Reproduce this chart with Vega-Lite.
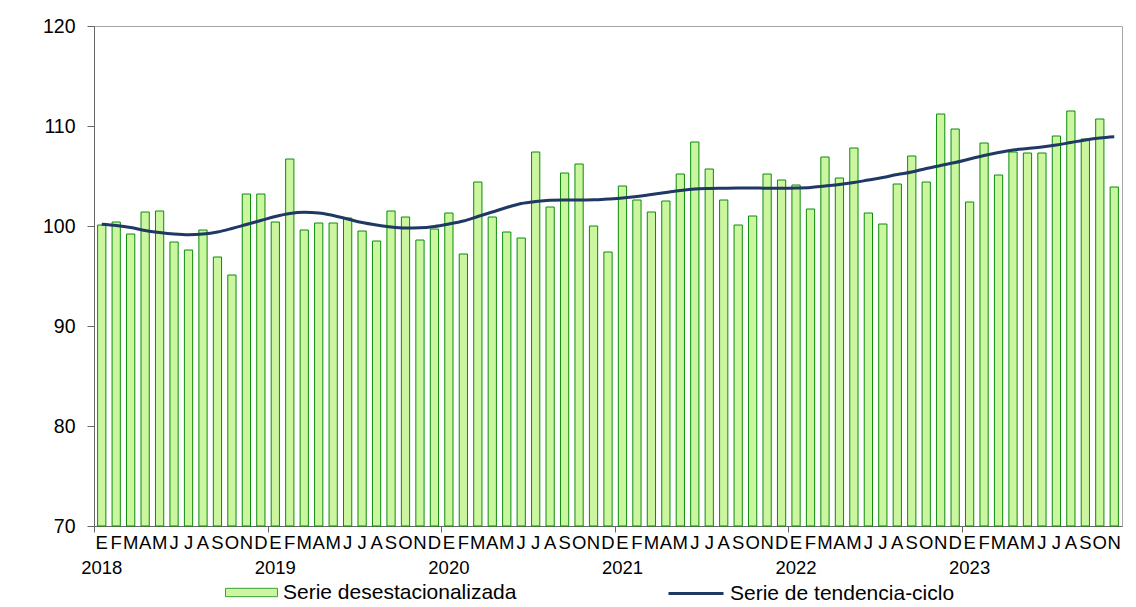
{
  "$schema": "https://vega.github.io/schema/vega-lite/v6.json",
  "width": 1028,
  "height": 500,
  "autosize": {"type": "none"},
  "padding": {"left": 94, "top": 26, "right": 14, "bottom": 81},
  "background": "white",
  "config": {
    "font": "Liberation Sans",
    "view": {"stroke": "#a6a6a6", "strokeWidth": 1}
  },
  "data": {
    "values": [
      {"m": "2018-01", "v": 100.1, "t": 100.17},
      {"m": "2018-02", "v": 100.4, "t": 100.05},
      {"m": "2018-03", "v": 99.2, "t": 99.85},
      {"m": "2018-04", "v": 101.4, "t": 99.55},
      {"m": "2018-05", "v": 101.5, "t": 99.35},
      {"m": "2018-06", "v": 98.4, "t": 99.2},
      {"m": "2018-07", "v": 97.6, "t": 99.13},
      {"m": "2018-08", "v": 99.6, "t": 99.2},
      {"m": "2018-09", "v": 96.9, "t": 99.4},
      {"m": "2018-10", "v": 95.1, "t": 99.75},
      {"m": "2018-11", "v": 103.2, "t": 100.15},
      {"m": "2018-12", "v": 103.2, "t": 100.55},
      {"m": "2019-01", "v": 100.4, "t": 100.95},
      {"m": "2019-02", "v": 106.7, "t": 101.25},
      {"m": "2019-03", "v": 99.6, "t": 101.37},
      {"m": "2019-04", "v": 100.3, "t": 101.3},
      {"m": "2019-05", "v": 100.3, "t": 101.05},
      {"m": "2019-06", "v": 100.8, "t": 100.7},
      {"m": "2019-07", "v": 99.5, "t": 100.35},
      {"m": "2019-08", "v": 98.5, "t": 100.1},
      {"m": "2019-09", "v": 101.5, "t": 99.9},
      {"m": "2019-10", "v": 100.9, "t": 99.8},
      {"m": "2019-11", "v": 98.6, "t": 99.82},
      {"m": "2019-12", "v": 99.7, "t": 99.95},
      {"m": "2020-01", "v": 101.3, "t": 100.2},
      {"m": "2020-02", "v": 97.2, "t": 100.5},
      {"m": "2020-03", "v": 104.4, "t": 100.95},
      {"m": "2020-04", "v": 100.9, "t": 101.4},
      {"m": "2020-05", "v": 99.4, "t": 101.85},
      {"m": "2020-06", "v": 98.8, "t": 102.25},
      {"m": "2020-07", "v": 107.4, "t": 102.45},
      {"m": "2020-08", "v": 101.9, "t": 102.57},
      {"m": "2020-09", "v": 105.3, "t": 102.6},
      {"m": "2020-10", "v": 106.2, "t": 102.6},
      {"m": "2020-11", "v": 100.0, "t": 102.62},
      {"m": "2020-12", "v": 97.4, "t": 102.7},
      {"m": "2021-01", "v": 104.0, "t": 102.8},
      {"m": "2021-02", "v": 102.6, "t": 102.95},
      {"m": "2021-03", "v": 101.4, "t": 103.15},
      {"m": "2021-04", "v": 102.5, "t": 103.35},
      {"m": "2021-05", "v": 105.2, "t": 103.55},
      {"m": "2021-06", "v": 108.4, "t": 103.7},
      {"m": "2021-07", "v": 105.7, "t": 103.75},
      {"m": "2021-08", "v": 102.6, "t": 103.78},
      {"m": "2021-09", "v": 100.1, "t": 103.8},
      {"m": "2021-10", "v": 101.0, "t": 103.8},
      {"m": "2021-11", "v": 105.2, "t": 103.78},
      {"m": "2021-12", "v": 104.6, "t": 103.78},
      {"m": "2022-01", "v": 104.1, "t": 103.8},
      {"m": "2022-02", "v": 101.7, "t": 103.85},
      {"m": "2022-03", "v": 106.9, "t": 104.0},
      {"m": "2022-04", "v": 104.8, "t": 104.15},
      {"m": "2022-05", "v": 107.8, "t": 104.35},
      {"m": "2022-06", "v": 101.3, "t": 104.6},
      {"m": "2022-07", "v": 100.2, "t": 104.85},
      {"m": "2022-08", "v": 104.2, "t": 105.15},
      {"m": "2022-09", "v": 107.0, "t": 105.4},
      {"m": "2022-10", "v": 104.4, "t": 105.75},
      {"m": "2022-11", "v": 111.2, "t": 106.05},
      {"m": "2022-12", "v": 109.7, "t": 106.35},
      {"m": "2023-01", "v": 102.4, "t": 106.7},
      {"m": "2023-02", "v": 108.3, "t": 107.05},
      {"m": "2023-03", "v": 105.1, "t": 107.35},
      {"m": "2023-04", "v": 107.4, "t": 107.6},
      {"m": "2023-05", "v": 107.3, "t": 107.75},
      {"m": "2023-06", "v": 107.3, "t": 107.9},
      {"m": "2023-07", "v": 109.0, "t": 108.1},
      {"m": "2023-08", "v": 111.5, "t": 108.35},
      {"m": "2023-09", "v": 108.7, "t": 108.6},
      {"m": "2023-10", "v": 110.7, "t": 108.8},
      {"m": "2023-11", "v": 103.9, "t": 108.93}
    ]
  },
  "layer": [
    {
      "mark": {"type": "bar", "stroke": "#0b8c0b", "strokeWidth": 1},
      "encoding": {
        "x": {
          "field": "m",
          "type": "ordinal",
          "scale": {"paddingInner": 0.43, "paddingOuter": 0.25},
          "axis": {
            "title": null,
            "labelAngle": 0,
            "labelExpr": "substring(datum.value,5,7)=='01' ? ['E', substring(datum.value,0,4)] : ['E','F','M','A','M','J','J','A','S','O','N','D'][toNumber(substring(datum.value,5,7))-1]",
            "labelFont": "Liberation Sans",
            "labelFontSize": 18.5,
            "labelColor": "#000000",
            "labelPadding": 1,
            "labelOverlap": false,
            "labelLineHeight": 25,
            "labelBaseline": "top",
            "labelBound": false,
            "labelFlush": false,
            "tickSize": 6,
            "tickColor": "#666666",
            "tickOpacity": {"condition": {"test": "substring(datum.value,5,7)=='01'", "value": 1}, "value": 0},
            "bandPosition": -0.377,
            "domainColor": "#666666"
          }
        },
        "y": {
          "field": "v",
          "type": "quantitative",
          "scale": {"domain": [70, 120], "zero": false, "nice": false},
          "axis": {
            "title": null,
            "values": [70, 80, 90, 100, 110, 120],
            "grid": false,
            "labelFont": "Liberation Sans",
            "labelFontSize": 19.5,
            "labelColor": "#000000",
            "labelPadding": 12,
            "tickSize": 7,
            "tickColor": "#666666",
            "domainColor": "#666666"
          }
        },
        "y2": {"datum": 70},
        "fill": {
          "datum": "Serie desestacionalizada",
          "type": "nominal",
          "scale": {"range": ["#ccf5a0"]},
          "legend": {
            "title": null,
            "orient": "none",
            "legendX": 131,
            "legendY": 540,
            "padding": 0,
            "symbolType": "M-1,-0.16L1,-0.16L1,0.16L-1,0.16Z",
            "symbolSize": 2704,
            "symbolStrokeColor": "#3aa23a",
            "symbolStrokeWidth": 1,
            "labelFont": "Liberation Sans",
            "labelFontSize": 21,
            "labelColor": "#000000",
            "labelOffset": 5,
            "labelLimit": 500
          }
        }
      }
    },
    {
      "mark": {"type": "line", "interpolate": "monotone", "strokeWidth": 3},
      "encoding": {
        "x": {"field": "m", "type": "ordinal"},
        "y": {"field": "t", "type": "quantitative"},
        "stroke": {
          "datum": "Serie de tendencia-ciclo",
          "type": "nominal",
          "scale": {"range": ["#1f3864"]},
          "legend": {
            "title": null,
            "orient": "none",
            "legendX": 573,
            "legendY": 538.5,
            "padding": 0,
            "symbolType": "stroke",
            "symbolSize": 3025,
            "symbolStrokeWidth": 3,
            "labelFont": "Liberation Sans",
            "labelFontSize": 21,
            "labelColor": "#000000",
            "labelOffset": 5,
            "labelLimit": 500
          }
        }
      }
    }
  ]
}
